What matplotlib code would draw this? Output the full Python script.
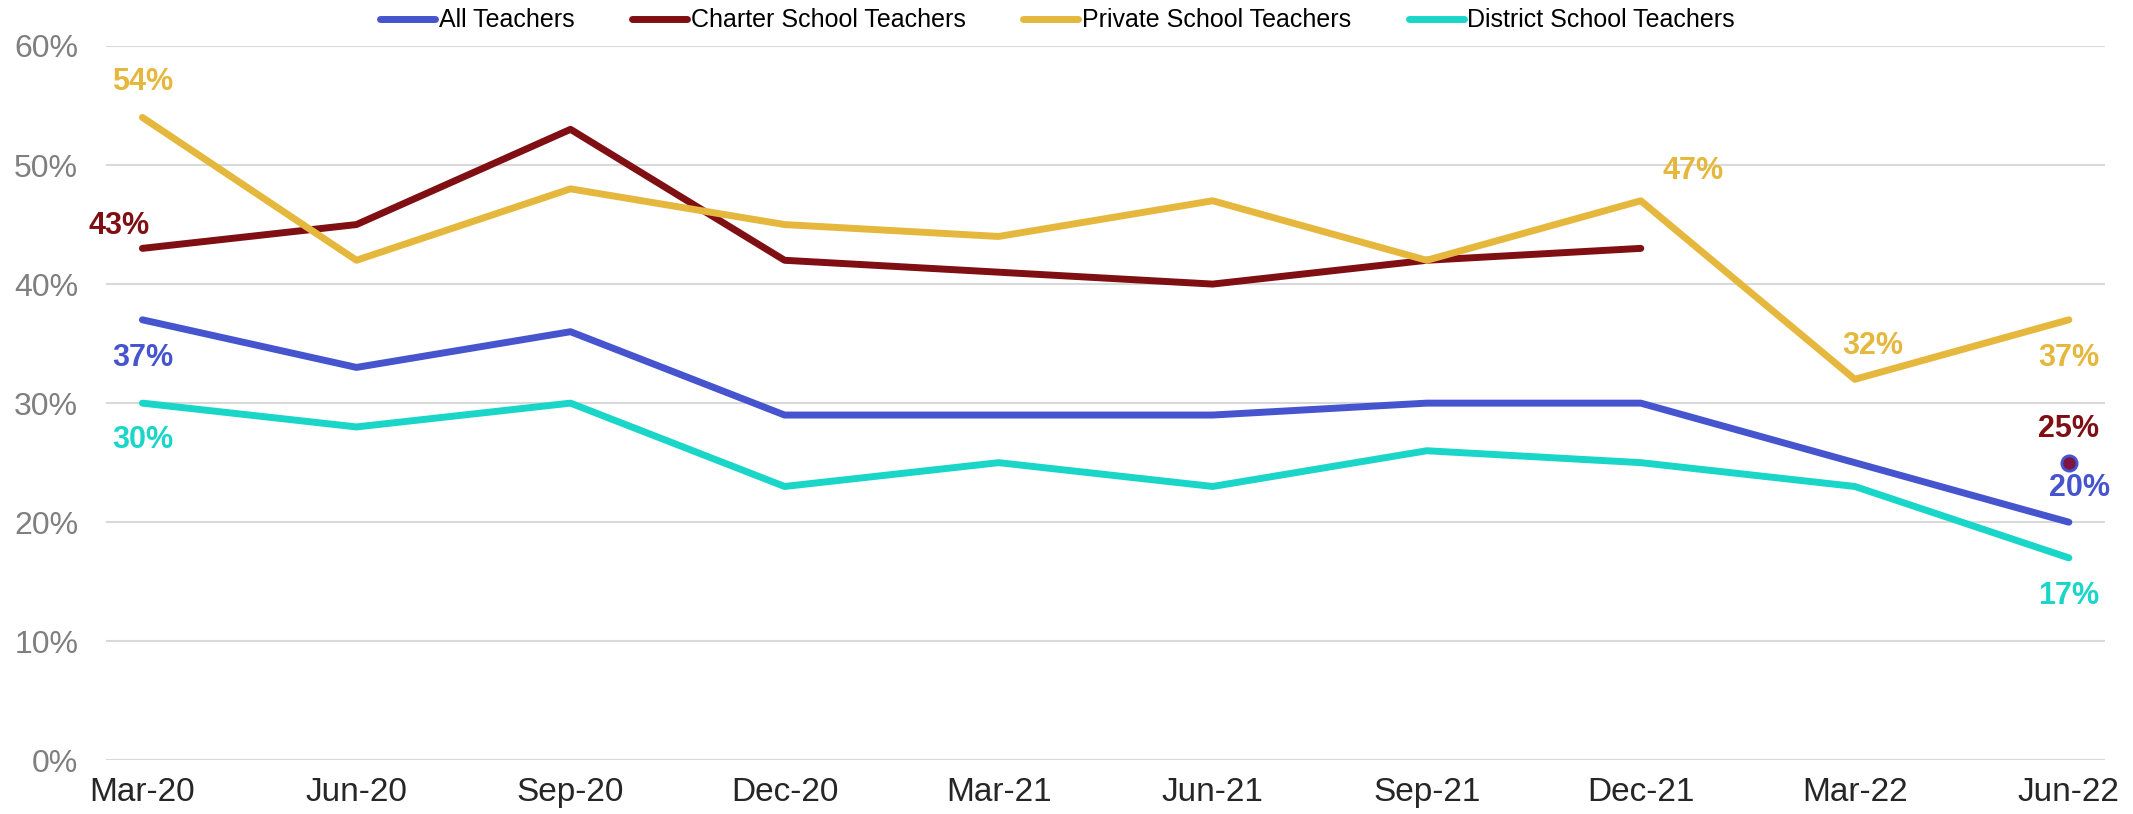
import numpy as np
import matplotlib.pyplot as plt
from matplotlib.ticker import FuncFormatter

plt.rcParams['font.family'] = ['Liberation Sans', 'DejaVu Sans']

months = ['Mar-20', 'Jun-20', 'Sep-20', 'Dec-20', 'Mar-21', 'Jun-21', 'Sep-21', 'Dec-21', 'Mar-22', 'Jun-22']
all_teachers = [37, 33, 36, 29, 29, 29, 30, 30, 25, 20]
charter = [43, 45, 53, 42, 41, 40, 42, 43, np.nan, np.nan]
charter_last = 25
private = [54, 42, 48, 45, 44, 47, 42, 47, 32, 37]
district = [30, 28, 30, 23, 25, 23, 26, 25, 23, 17]

c_all = '#4655CE'
c_charter = '#7F0F12'
c_private = '#E5B83D'
c_district = '#19D6C9'

fig = plt.figure(figsize=(21.33, 8.14), dpi=100)
ax = fig.add_axes([0.0497, 0.066, 0.9373, 0.8775])

x = np.arange(len(months))
lw = 5
ax.plot(x, all_teachers, color=c_all, lw=lw, label='All Teachers', solid_capstyle='round')
ax.plot(x, charter, color=c_charter, lw=lw, label='Charter School Teachers', solid_capstyle='round')
ax.plot(x, private, color=c_private, lw=lw, label='Private School Teachers', solid_capstyle='round')
ax.plot(x, district, color=c_district, lw=lw, label='District School Teachers', solid_capstyle='round')
ax.plot([9], [charter_last], 'o', color='#7F1545', markeredgecolor=c_all, markeredgewidth=2, markersize=11)

def lab(i, v, color, dx, dy):
    ax.annotate('%d%%' % v, (i, v), xytext=(dx, dy), textcoords='offset pixels',
                ha='center', va='center', color=color, fontsize=22, fontweight='bold')

lab(0, private[0], c_private, 0, 35)
lab(0, charter[0], c_charter, -23, 22)
lab(0, all_teachers[0], c_all, 0, -38)
lab(0, district[0], c_district, 0, -37)
lab(7, private[7], c_private, 52, 30)
lab(8, private[8], c_private, 18, 33)
lab(9, private[9], c_private, 0, -38)
lab(9, charter_last, c_charter, 0, 34)
lab(9, all_teachers[9], c_all, 11, 34)
lab(9, district[9], c_district, 0, -38)

ax.set_xlim(-0.17, 9.17)
ax.set_ylim(0, 60)
ax.set_yticks(range(0, 61, 10))
ax.yaxis.set_major_formatter(FuncFormatter(lambda v, p: '%d%%' % v))
ax.set_xticks(x)
ax.set_xticklabels(months)
ax.tick_params(axis='y', length=0, pad=20, labelsize=23, labelcolor='#7F7F7F')
ax.tick_params(axis='x', length=0, pad=12, labelsize=24, labelcolor='#262626')
ax.grid(axis='y', color='#D9D9D9', lw=1.5)
ax.set_axisbelow(True)
for s in ax.spines.values():
    s.set_visible(False)

ax.legend(loc='center', bbox_to_anchor=(0.476, 1.036), ncol=4, frameon=False,
          fontsize=18, handlelength=2.2, columnspacing=2.3, handletextpad=0.15, borderaxespad=0,
          borderpad=0)

fig.savefig('out.png', dpi=100)
